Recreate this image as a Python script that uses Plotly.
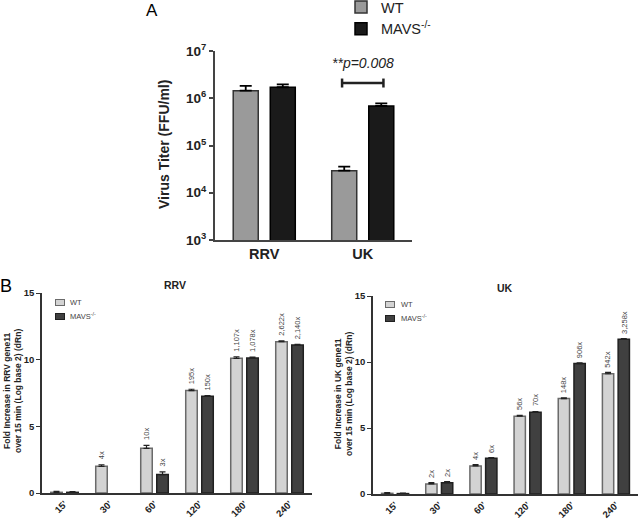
import math
import plotly.graph_objects as go

# ---------------- data ----------------
# Panel A (virus titer, FFU/ml)
a_groups = ["RRV", "UK"]
a_wt = [1.45e6, 2.93e4]
a_wt_top = [1.82e6, 3.56e4]        # top of error bar
a_mavs = [1.71e6, 6.86e5]
a_mavs_top = [1.97e6, 7.8e5]
a_ytickvals = [1e3, 1e4, 1e5, 1e6, 1e7]
a_yticktext = ["10<sup>3</sup>", "10<sup>4</sup>", "10<sup>5</sup>", "10<sup>6</sup>", "10<sup>7</sup>"]
p_text = "**p=0.008"
p_level = 2.1e6

# Panel B (fold increase, log2)
times = ["15'", "30'", "60'", "120'", "180'", "240'"]
rrv_wt = [0.05, 2.0, 3.35, 7.68, 10.1, 11.35]
rrv_wt_err = [0.08, 0.12, 0.22, 0.10, 0.12, 0.07]
rrv_mavs = [0.05, None, 1.38, 7.25, 10.13, 11.1]
rrv_mavs_err = [0.05, 0.0, 0.20, 0.06, 0.07, 0.05]
rrv_wt_labels = ["", "4x", "10x", "195x", "1,107x", "2,622x"]
rrv_mavs_labels = ["", "", "3x", "150x", "1,078x", "2,140x"]

uk_wt = [0.05, 0.76, 2.13, 5.89, 7.23, 9.11]
uk_wt_err = [0.05, 0.10, 0.10, 0.06, 0.05, 0.10]
uk_mavs = [0.03, 0.86, 2.71, 6.19, 9.88, 11.73]
uk_mavs_err = [0.03, 0.07, 0.05, 0.06, 0.05, 0.05]
uk_wt_labels = ["", "2x", "4x", "56x", "148x", "542x"]
uk_mavs_labels = ["", "2x", "6x", "70x", "906x", "3,258x"]

# ---------------- styles / geometry ----------------
FONT = "Liberation Sans, Arial, sans-serif"
A_WT, A_WT_LINE = "#9a9a9a", "#333333"
A_MV, A_MV_LINE = "#1a1a1a", "#000000"
B_WT, B_WT_LINE = "#d3d3d3", "#6a6a6a"
B_MV, B_MV_LINE = "#404040", "#202020"

W, H = 640, 525


def fx(px):
    return px / W


def fy(py):
    return 1 - py / H


fig = go.Figure()

# ---- Panel A bars ----
aw, ao = 0.254, 0.188
fig.add_trace(go.Bar(
    x=a_groups, y=a_wt, name="WT", width=aw, offset=-ao - aw / 2,
    marker=dict(color=A_WT, line=dict(color=A_WT_LINE, width=1.5)),
    error_y=dict(type="data", symmetric=False,
                 array=[t - v for t, v in zip(a_wt_top, a_wt)],
                 arrayminus=[0] * len(a_wt), color="#000", thickness=1.8, width=6),
    xaxis="x", yaxis="y", legend="legend"))
fig.add_trace(go.Bar(
    x=a_groups, y=a_mavs, name="MAVS<sup>-/-</sup>", width=aw, offset=ao - aw / 2,
    marker=dict(color=A_MV, line=dict(color=A_MV_LINE, width=1.5)),
    error_y=dict(type="data", symmetric=False,
                 array=[t - v for t, v in zip(a_mavs_top, a_mavs)],
                 arrayminus=[0] * len(a_mavs), color="#000", thickness=1.8, width=6),
    xaxis="x", yaxis="y", legend="legend"))

# ---- Panel B bars ----
bw, bo = 0.256, 0.178


def add_b(xa, ya, vals, errs, name, color, line, side):
    fig.add_trace(go.Bar(
        x=times, y=vals, name=name, width=bw, showlegend=False,
        offset=side * bo - bw / 2,
        marker=dict(color=color, line=dict(color=line, width=1.5)),
        error_y=dict(type="data", symmetric=False, array=errs,
                     arrayminus=[0] * len(errs), color="#222", thickness=1.2, width=3),
        xaxis=xa, yaxis=ya))


add_b("x2", "y2", rrv_wt, rrv_wt_err, "WT", B_WT, B_WT_LINE, -1)
add_b("x2", "y2", rrv_mavs, rrv_mavs_err, "MAVS<sup>-/-</sup>", B_MV, B_MV_LINE, 1)
add_b("x3", "y3", uk_wt, uk_wt_err, "WT", B_WT, B_WT_LINE, -1)
add_b("x3", "y3", uk_mavs, uk_mavs_err, "MAVS<sup>-/-</sup>", B_MV, B_MV_LINE, 1)

annotations = []


def bar_labels(xref, yref, vals, errs, labels, shift):
    for t, v, e, lab in zip(times, vals, errs, labels):
        if not lab or v is None:
            continue
        annotations.append(dict(
            x=t, y=v + e, xref=xref, yref=yref, text=lab, showarrow=False,
            textangle=-90, xanchor="center", yanchor="bottom", xshift=shift, yshift=3,
            font=dict(family=FONT, size=7.5, color="#444")))


bar_labels("x2", "y2", rrv_wt, rrv_wt_err, rrv_wt_labels, -8)
bar_labels("x2", "y2", rrv_mavs, rrv_mavs_err, rrv_mavs_labels, 8)
bar_labels("x3", "y3", uk_wt, uk_wt_err, uk_wt_labels, -8)
bar_labels("x3", "y3", uk_mavs, uk_mavs_err, uk_mavs_labels, 8)


def txt(px, py, text, size, color="#222", angle=0, xa="center"):
    annotations.append(dict(x=fx(px), y=fy(py), xref="paper", yref="paper", text=text,
                            showarrow=False, textangle=angle, xanchor=xa, yanchor="middle",
                            font=dict(family=FONT, size=size, color=color)))


# Panel letters / titles
txt(152, 10, "A", 17, "#000")
txt(6, 286, "B", 18, "#000")
txt(175, 285, "<b>RRV</b>", 10.5)
txt(505, 288, "<b>UK</b>", 10.5)
txt(164, 145, "<b>Virus Titer (FFU/ml)</b>", 14, angle=-90)
txt(12, 391, "<b>Fold Increase in RRV gene11<br>over 15 min (Log base 2) (dRn)</b>", 8.5, angle=-90)
txt(343, 394, "<b>Fold Increase in UK gene11<br>over 15 min (Log base 2) (dRn)</b>", 8.5, angle=-90)


# small legends for panel B
def swatch(px, py, color, line):
    annotations.append(dict(x=fx(px), y=fy(py), xref="paper", yref="paper", text="",
                            showarrow=False, xanchor="center", yanchor="middle",
                            width=8, height=5, bgcolor=color, bordercolor=line,
                            borderwidth=1, borderpad=0, font=dict(size=1)))


for lx, ly0, lt in [(60, 302, 68), (390, 304, 399)]:
    swatch(lx, ly0, B_WT, B_WT_LINE)
    swatch(lx, ly0 + 14, B_MV, B_MV_LINE)
    txt(lt, ly0, "WT", 7.5, "#444", xa="left")
    txt(lt, ly0 + 14, "MAVS<sup>-/-</sup>", 7.5, "#444", xa="left")

# significance text (annotations on log axes use log10 positions)
annotations.append(dict(x=1, y=math.log10(p_level), xref="x", yref="y",
                        text="<i>" + p_text + "</i>", showarrow=False,
                        xanchor="center", yanchor="bottom", yshift=10,
                        font=dict(family=FONT, size=14, color="#222")))

# significance bracket (shapes on log axes use data values)
tick = 10 ** 0.095
bh = 0.21
shapes = [
    dict(type="line", xref="x", yref="y", x0=1 - bh, x1=1 + bh, y0=p_level, y1=p_level,
         line=dict(color="#222", width=2.5)),
    dict(type="line", xref="x", yref="y", x0=1 - bh, x1=1 - bh, y0=p_level / tick,
         y1=p_level * tick, line=dict(color="#222", width=2.5)),
    dict(type="line", xref="x", yref="y", x0=1 + bh, x1=1 + bh, y0=p_level / tick,
         y1=p_level * tick, line=dict(color="#222", width=2.5)),
]

b_axis_common = dict(showgrid=False, zeroline=False, showline=True, linecolor="#333",
                     linewidth=1.5)
b_tickfont = dict(family=FONT, size=9.5, weight="bold", color="#222")

fig.update_layout(
    width=W, height=H, margin=dict(l=0, r=0, t=0, b=0, autoexpand=False),
    paper_bgcolor="white", plot_bgcolor="white",
    barmode="overlay", font=dict(family=FONT, color="#222"),
    annotations=annotations, shapes=shapes,
    xaxis=dict(domain=[fx(215), fx(412)], anchor="y", type="category", range=[-0.5, 1.5],
               showgrid=False, zeroline=False, showline=True, linecolor="#444", linewidth=2,
               ticks="", tickfont=dict(family=FONT, size=14.5, weight="bold", color="#222")),
    yaxis=dict(domain=[fy(240), fy(51)], anchor="x", type="log", range=[3, 7],
               tickvals=a_ytickvals, ticktext=a_yticktext, showgrid=False, zeroline=False,
               showline=True, linecolor="#444", linewidth=2, ticks="outside", ticklen=4,
               tickwidth=2, tickcolor="#444",
               tickfont=dict(family=FONT, size=13.5, weight="bold", color="#222")),
    xaxis2=dict(domain=[fx(42), fx(312)], anchor="y2", type="category", range=[-0.5, 5.5],
                ticks="", tickangle=-45, tickfont=b_tickfont, **b_axis_common),
    yaxis2=dict(domain=[fy(493), fy(293)], anchor="x2", range=[0, 15], dtick=5,
                ticks="outside", ticklen=4, tickcolor="#333", tickfont=b_tickfont,
                **b_axis_common),
    xaxis3=dict(domain=[fx(373), fx(638)], anchor="y3", type="category", range=[-0.5, 5.5],
                ticks="", tickangle=-45, tickfont=b_tickfont, **b_axis_common),
    yaxis3=dict(domain=[fy(494), fy(296)], anchor="x3", range=[0, 15], dtick=5,
                ticks="outside", ticklen=4, tickcolor="#333", tickfont=b_tickfont,
                **b_axis_common),
    legend=dict(x=fx(341), y=fy(-9), xanchor="left", yanchor="top", bgcolor="rgba(0,0,0,0)",
                font=dict(family=FONT, size=14.5, color="#222"), tracegroupgap=0),
    showlegend=True,
)

# remove the default 8px page margin so the 640x525 figure fills the window
fig.write_html("out.html", config={"displayModeBar": False},
               post_script="document.body.style.margin='0px';")
